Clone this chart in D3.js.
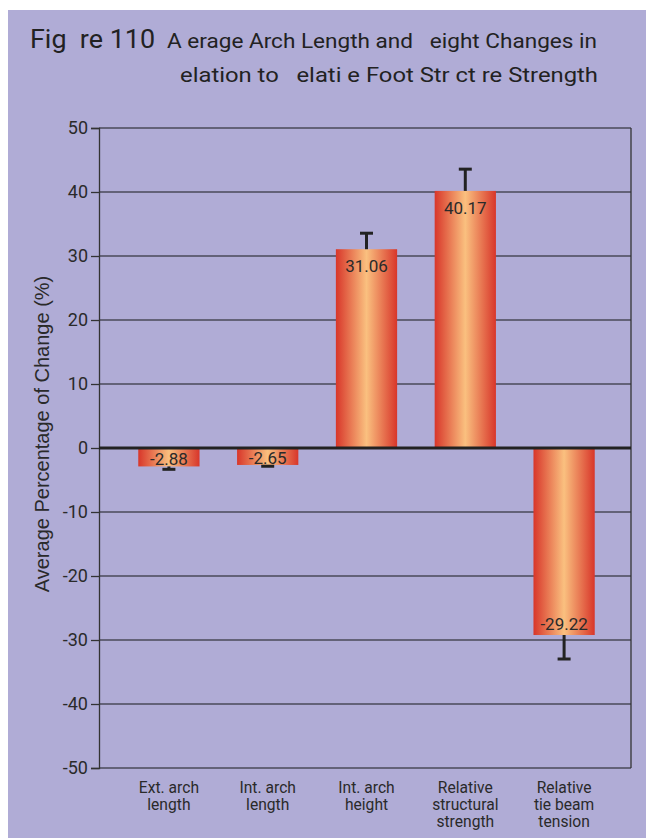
<!DOCTYPE html>
<html><head><meta charset="utf-8">
<script src="https://cdn.jsdelivr.net/npm/d3@7"></script>
<style>
html,body{margin:0;padding:0;background:#fff;}
svg{display:block;}
text{font-family:Roboto,"Liberation Sans",sans-serif;}
</style></head>
<body>
<script>
const categories = [["Ext. arch","length"],["Int. arch","length"],["Int. arch","height"],["Relative","structural","strength"],["Relative","tie beam","tension"]];
const values = [-2.88, -2.65, 31.06, 40.17, -29.22];
const errors = [0.45, 0.2, 2.5, 3.4, 3.75];
const yTicks = [50,40,30,20,10,0,-10,-20,-30,-40,-50];
const titleLine1a = "Fig  re 110";
const titleLine1b = "A erage Arch Length and   eight Changes in";
const titleLine2 = "elation to   elati e Foot Str ct re Strength";
const yTitle = "Average Percentage of Change (%)";

(function(){
const W=646,H=838;
const svg=d3.select("body").append("svg").attr("width",W).attr("height",H);
svg.append("rect").attr("x",8).attr("y",10).attr("width",W-8).attr("height",H-10).attr("fill","#b0acd6");

const defs=svg.append("defs");
const g=defs.append("linearGradient").attr("id","bg").attr("x1","0").attr("x2","1").attr("y1","0").attr("y2","0");
g.append("stop").attr("offset","0%").attr("stop-color","#d8362a");
g.append("stop").attr("offset","50%").attr("stop-color","#fac07f");
g.append("stop").attr("offset","100%").attr("stop-color","#d8362a");

const pL=99,pR=631,pT=128,pB=768;
const y=d3.scaleLinear().domain([-50,50]).range([pB,pT]);
const x=d3.scaleBand().domain(d3.range(categories.length)).range([119.5,613.5]).paddingInner(0.38).paddingOuter(0.19);

svg.append("g").selectAll("line").data(yTicks.filter(d=>d!==0)).join("line")
 .attr("x1",pL).attr("x2",pR).attr("y1",d=>y(d)).attr("y2",d=>y(d))
 .attr("stroke","#4a4a58").attr("stroke-width",1.3);

const yAxis=svg.append("g").attr("transform",`translate(${pL},0)`)
 .call(d3.axisLeft(y).tickValues(yTicks).tickSize(8).tickPadding(3).tickFormat(d=>String(d)));
yAxis.select(".domain").attr("stroke","#333").attr("stroke-width",1.3);
yAxis.selectAll(".tick line").attr("stroke","#333").attr("stroke-width",1.3);
yAxis.selectAll(".tick text").attr("fill","#2a2a2a").style("font-size","18px").attr("font-family",null);

svg.append("line").attr("x1",pR).attr("x2",pR).attr("y1",pT).attr("y2",pB).attr("stroke","#333").attr("stroke-width",1.3);

svg.append("g").selectAll("rect").data(values).join("rect")
 .attr("x",(d,i)=>x(i)).attr("width",x.bandwidth())
 .attr("y",d=>y(Math.max(0,d))).attr("height",d=>Math.abs(y(d)-y(0)))
 .attr("fill","url(#bg)");

const eb=svg.append("g").attr("stroke","#222");
values.forEach((v,i)=>{
  const cx=x(i)+x.bandwidth()/2;
  const end=v>=0?v+errors[i]:v-errors[i];
  eb.append("line").attr("x1",cx).attr("x2",cx).attr("y1",y(v)).attr("y2",y(end)).attr("stroke-width",3);
  eb.append("line").attr("x1",cx-6.5).attr("x2",cx+6.5).attr("y1",y(end)).attr("y2",y(end)).attr("stroke-width",3);
});

svg.append("line").attr("x1",pL).attr("x2",pR).attr("y1",y(0)).attr("y2",y(0)).attr("stroke","#222").attr("stroke-width",3);

svg.append("g").selectAll("text").data(values).join("text")
 .attr("x",(d,i)=>x(i)+x.bandwidth()/2)
 .attr("y",d=>d>=0? y(d)+23 : (Math.abs(y(d)-y(0))<30 ? y(d)-1 : y(d)-5))
 .attr("text-anchor","middle").attr("fill","#2a2a2a").style("font-size","17px")
 .text(d=>d.toFixed(2));

const xl=svg.append("g");
categories.forEach((lines,i)=>{
  const cx=x(i)+x.bandwidth()/2;
  const gg=xl.append("g").attr("transform",`translate(${cx},793) scale(0.92,1)`);
  lines.forEach((l,j)=>gg.append("text").attr("text-anchor","middle").attr("fill","#2a2a2a").style("font-size","17px")
    .attr("x",0).attr("y",j*17).text(l));
});

svg.append("text").attr("transform",`translate(49,434) rotate(-90)`).attr("text-anchor","middle")
 .attr("fill","#2a2a2a").style("font-size","20px").style("font-family",'"Liberation Sans",sans-serif').text(yTitle);

svg.append("text").attr("x",30).attr("y",48).attr("fill","#222").style("font-size","25px").attr("textLength",125).attr("lengthAdjust","spacingAndGlyphs").style("white-space","pre").text(titleLine1a);
svg.append("text").attr("x",167).attr("y",48).attr("fill","#222").style("font-size","20px").attr("textLength",430).attr("lengthAdjust","spacingAndGlyphs").style("white-space","pre").text(titleLine1b);
svg.append("text").attr("x",180).attr("y",82).attr("fill","#222").style("font-size","20px").attr("textLength",418).attr("lengthAdjust","spacingAndGlyphs").style("white-space","pre").text(titleLine2);
})();
</script>
</body></html>
